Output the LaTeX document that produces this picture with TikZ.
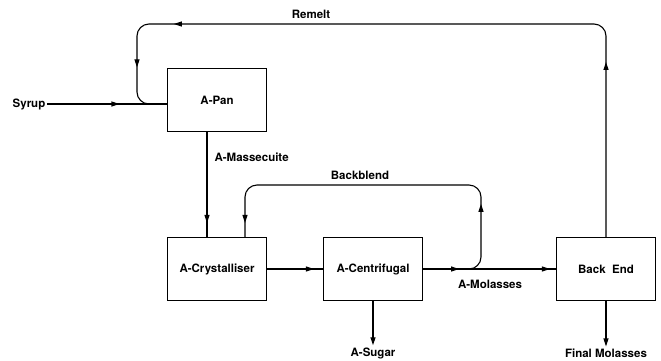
\documentclass[tikz,border=0pt]{standalone}
\usepackage{fontspec}
\setmainfont{TeX Gyre Heros}
\usetikzlibrary{arrows.meta,decorations.markings}

\tikzset{
  unit/.style={draw, line width=1.1pt, minimum width=99pt, minimum height=63pt},
  flow/.style={line width=1.1pt},
  tipat/.style={postaction={decorate, decoration={markings,
      mark=at position #1 with {\arrow{Triangle[length=8pt,width=5pt]}}}}},
  lbl/.style={inner sep=2pt},
}

\begin{document}
\begin{tikzpicture}[x=1pt, y=-1pt, font=\bfseries\fontsize{11.5}{13}\selectfont]
            \useasboundingbox (0,0) rectangle (661,360);

            \node[unit] (pan) at (217,100) {A-Pan};
            \node[unit] (crys) at (217,269) {A-Crystalliser};
            \node[unit] (cent) at (373,269) {A-Centrifugal};
            \node[unit] (back) at (606,269) {Back\ \ End};

            \node[lbl] (syrup) at (29,104) {Syrup};
            \node[lbl] (sugar) at (373,353) {A-Sugar};
            \node[lbl] (final) at (606,353) {Final Molasses};

            \coordinate (rt) at (137,24);
            \coordinate (bb1) at (469,269);
            \coordinate (bbr) at (481,185);
            \coordinate (bbl) at (245,185);

            % syrup and remelt into the pan
            \draw[flow, tipat=72pt] (syrup.east) -- (syrup.east -| pan.west);
            \draw[flow, rounded corners=12pt, tipat=175pt, tipat=640pt, tipat=715pt]
                (back.north) |- (rt) |- (syrup.east -| pan.west);
            \node at (311,14) {Remelt};

            % massecuite
            \draw[flow, tipat=-14pt] ([xshift=-10pt]pan.south) -- ([xshift=-10pt]crys.north);
            \node[anchor=west] at (211,157) {A-Massecuite};

            % crystalliser to centrifugal
            \draw[flow, tipat=-9pt] (crys.east) -- (cent.west);

            % molasses and backblend
            \draw[flow, tipat=36pt, tipat=-6pt] (cent.east) -- (back.west);
            \node at (490,284) {A-Molasses};
            \draw[flow, rounded corners=12pt, tipat=72pt, tipat=-14pt]
                (bb1) -| (bbr) -- (bbl) -- (bbl |- crys.north);
            \node at (360,175) {Backblend};

            % products
            \draw[flow, -{Triangle[length=8pt,width=5pt]}] (cent.south) -- (sugar.north);
            \draw[flow, -{Triangle[length=8pt,width=5pt]}] (back.south) -- (final.north);
        \end{tikzpicture}
\end{document}
